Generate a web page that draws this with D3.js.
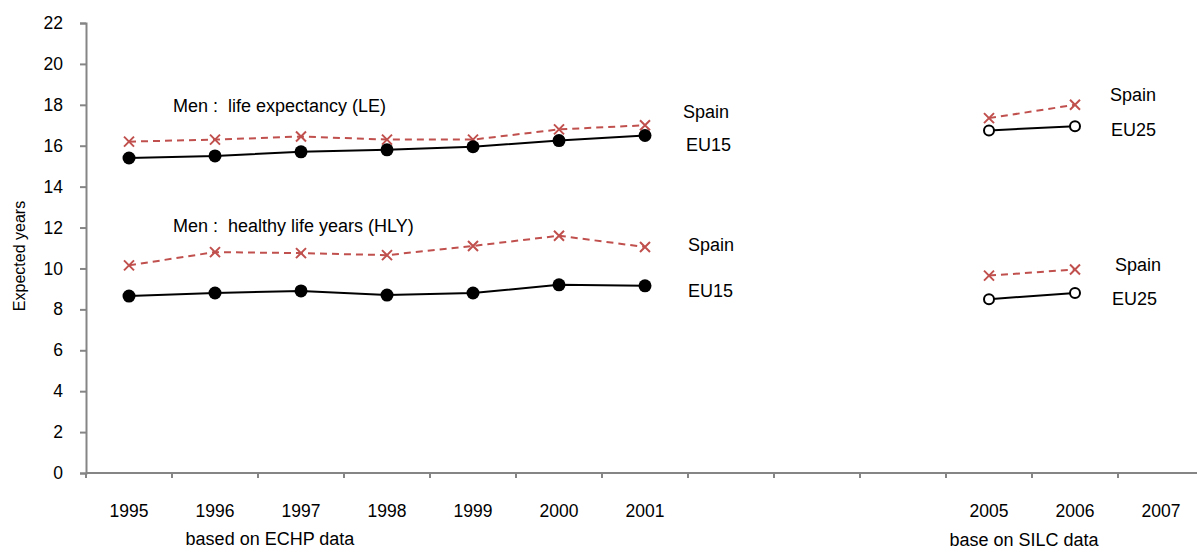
<!DOCTYPE html>
<html>
<head>
<meta charset="utf-8">
<script src="https://cdn.jsdelivr.net/npm/d3@7"></script>
<style>
  body { margin: 0; background: #fff; }
  text { font-family: "Liberation Sans", Arial, sans-serif; fill: #000; white-space: pre; }
</style>
</head>
<body>
<script>
// Width and height
var w = 1197;
var h = 551;

// categories on the x axis (2002-2004 are empty slots)
var categories = ["1995", "1996", "1997", "1998", "1999", "2000", "2001", "2002", "2003", "2004", "2005", "2006", "2007"];
var tickLabels = ["1995", "1996", "1997", "1998", "1999", "2000", "2001", "", "", "", "2005", "2006", "2007"];
var yTicks = [0, 2, 4, 6, 8, 10, 12, 14, 16, 18, 20, 22];

// ECHP based years
var echpYears = ["1995", "1996", "1997", "1998", "1999", "2000", "2001"];
var leSpainEchp = [16.2, 16.3, 16.45, 16.3, 16.3, 16.8, 17.0];
var leEu15 = [15.4, 15.5, 15.7, 15.8, 15.95, 16.25, 16.5];
var hlySpainEchp = [10.15, 10.8, 10.75, 10.65, 11.1, 11.6, 11.05];
var hlyEu15 = [8.65, 8.8, 8.9, 8.7, 8.8, 9.2, 9.15];

// SILC based years
var silcYears = ["2005", "2006"];
var leSpainSilc = [17.35, 18.0];
var leEu25 = [16.75, 16.95];
var hlySpainSilc = [9.65, 9.95];
var hlyEu25 = [8.5, 8.8];

var red = "#c0504d";
var axisGrey = "#858585";

var x = d3.scaleBand()
    .domain(categories)
    .range([86, 1204])
    .padding(0);

var y = d3.scaleLinear()
    .domain([0, 22])
    .range([473, 23]);

function cx(d) { return x(d) + x.bandwidth() / 2; }

var svg = d3.select("body")
    .append("svg")
    .attr("width", w)
    .attr("height", h);

// y axis
var yAxis = d3.axisLeft(y)
    .tickValues(yTicks)
    .tickSize(6)
    .tickPadding(17);
var gy = svg.append("g")
    .attr("transform", "translate(" + 86 + ",0)")
    .call(yAxis);
gy.select(".domain").attr("stroke", axisGrey).attr("stroke-width", 2);
gy.selectAll(".tick line").attr("stroke", axisGrey).attr("stroke-width", 2);
gy.selectAll(".tick text")
    .style("font-size", "17.5px")
    .style("font-family", "Liberation Sans, Arial, sans-serif")
    .attr("fill", "#000");

// x axis: line + boundary ticks + centred labels
svg.append("line")
    .attr("x1", 86).attr("x2", 1204)
    .attr("y1", y(0)).attr("y2", y(0))
    .attr("stroke", axisGrey)
    .attr("stroke-width", 2);

svg.selectAll(".xtick")
    .data(categories)
    .enter()
    .append("line")
    .attr("class", "xtick")
    .attr("x1", function(d) { return x(d); })
    .attr("x2", function(d) { return x(d); })
    .attr("y1", y(0))
    .attr("y2", y(0) + 5)
    .attr("stroke", axisGrey)
    .attr("stroke-width", 2);

svg.selectAll(".xlabel")
    .data(categories)
    .enter()
    .append("text")
    .attr("class", "xlabel")
    .attr("x", function(d) { return cx(d); })
    .attr("y", 517)
    .attr("text-anchor", "middle")
    .style("font-size", "17.5px")
    .text(function(d, i) { return tickLabels[i]; });

// y axis title
svg.append("text")
    .attr("transform", "translate(25,256) rotate(-90)")
    .attr("text-anchor", "middle")
    .style("font-size", "16px")
    .text("Expected years");

// group titles under the x axis
svg.append("text")
    .attr("x", 270).attr("y", 545)
    .attr("text-anchor", "middle")
    .style("font-size", "18px")
    .text("based on ECHP data");
svg.append("text")
    .attr("x", 1024).attr("y", 546)
    .attr("text-anchor", "middle")
    .style("font-size", "18px")
    .text("base on SILC data");

// draw a series: line + markers
function drawSeries(years, values, kind) {
    var pts = years.map(function(d, i) { return [cx(d), y(values[i])]; });
    var line = d3.line();
    var path = svg.append("path")
        .attr("d", line(pts))
        .attr("fill", "none")
        .attr("stroke-width", 2);
    if (kind === "cross") {
        path.attr("stroke", red).attr("stroke-dasharray", "7,5");
        svg.selectAll(null)
            .data(pts)
            .enter()
            .append("path")
            .attr("d", function(p) {
                var s = 5;
                return "M" + (p[0] - s) + "," + (p[1] - s) + "L" + (p[0] + s) + "," + (p[1] + s) +
                       "M" + (p[0] - s) + "," + (p[1] + s) + "L" + (p[0] + s) + "," + (p[1] - s);
            })
            .attr("stroke", red)
            .attr("stroke-width", 2)
            .attr("fill", "none");
    } else if (kind === "dot") {
        path.attr("stroke", "#000");
        svg.selectAll(null)
            .data(pts)
            .enter()
            .append("circle")
            .attr("cx", function(p) { return p[0]; })
            .attr("cy", function(p) { return p[1]; })
            .attr("r", 6.5)
            .attr("fill", "#000");
    } else {
        path.attr("stroke", "#000");
        svg.selectAll(null)
            .data(pts)
            .enter()
            .append("circle")
            .attr("cx", function(p) { return p[0]; })
            .attr("cy", function(p) { return p[1]; })
            .attr("r", 5)
            .attr("fill", "#fff")
            .attr("stroke", "#000")
            .attr("stroke-width", 2);
    }
}

drawSeries(echpYears, leSpainEchp, "cross");
drawSeries(echpYears, leEu15, "dot");
drawSeries(echpYears, hlySpainEchp, "cross");
drawSeries(echpYears, hlyEu15, "dot");
drawSeries(silcYears, leSpainSilc, "cross");
drawSeries(silcYears, leEu25, "open");
drawSeries(silcYears, hlySpainSilc, "cross");
drawSeries(silcYears, hlyEu25, "open");

// annotations
var notes = [
    { t: "Men :  life expectancy (LE)", x: 173, y: 112 },
    { t: "Men :  healthy life years (HLY)", x: 173, y: 232 },
    { t: "Spain", x: 683, y: 118 },
    { t: "EU15", x: 686, y: 151 },
    { t: "Spain", x: 688, y: 251 },
    { t: "EU15", x: 688, y: 297 },
    { t: "Spain", x: 1110, y: 101 },
    { t: "EU25", x: 1111, y: 136 },
    { t: "Spain", x: 1115, y: 271 },
    { t: "EU25", x: 1112, y: 305 }
];
svg.selectAll(".note")
    .data(notes)
    .enter()
    .append("text")
    .attr("class", "note")
    .attr("x", function(d) { return d.x; })
    .attr("y", function(d) { return d.y; })
    .style("font-size", "18px")
    .text(function(d) { return d.t; });
</script>
</body>
</html>
